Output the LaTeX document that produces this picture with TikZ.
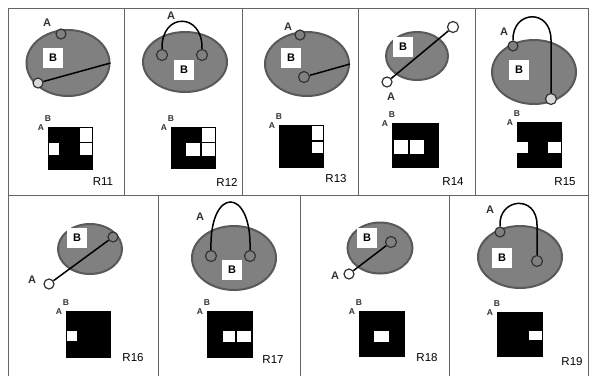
\documentclass[tikz,border=0pt]{standalone}
\usepackage{fontspec}
\setmainfont{Liberation Sans}
\usepackage{tikz}
\usetikzlibrary{shapes.geometric}

\tikzset{
  blob/.style={ellipse, draw=black!65, line width=2pt, fill=black!50, inner sep=0pt},
  knob/.style={circle, draw=black!80, line width=1.2pt, fill=black!50, inner sep=0pt, minimum size=10pt},
  knobout/.style={knob, fill=white},
  bbox/.style={fill=white, minimum size=20pt, inner sep=0pt, font=\bfseries\fontsize{11}{11}\selectfont},
  lab/.style={font=\bfseries\fontsize{11}{11}\selectfont, text=black!80, inner sep=0pt},
  rtag/.style={font=\fontsize{11.5}{12}\selectfont, inner sep=0pt},
  supl/.style={font=\bfseries\fontsize{8.5}{9}\selectfont, text=black!80, inner sep=0pt},
  wire/.style={line width=1.5pt, black},
  cellline/.style={draw=black!60, line width=0.8pt}
}

\begin{document}
\begin{tikzpicture}[x=1pt,y=-1pt]
    \useasboundingbox (0,0) rectangle (596,376);

    % frame
    \draw[cellline] (8,8) -- (588,8);
    \draw[cellline] (8,195) -- (588,195);
    \foreach \x in {8,124,242,358,475,588}
      \draw[cellline] (\x,8) -- (\x,195);
    \foreach \x in {8,158,300,449,588}
      \draw[cellline] (\x,195) -- (\x,376);

    % R11
    \node[blob, minimum width=83pt, minimum height=66pt] (e11) at (68,63) {};
    \node[bbox] (b11) at (53,58) {B};
    \node[knob] (a11) at (61,34) {};
    \node[knobout, fill=black!15] (c11) at (38,83) {};
    \draw[wire] (c11) -- (e11.east);
    \node[lab] (l11) at (47,23) {A};

    % R12
    \node[blob, minimum width=84pt, minimum height=60pt] (e12) at (185,62) {};
    \node[bbox] (b12) at (184,70) {B};
    \node[knob, minimum size=11pt] (a12) at (162,55) {};
    \node[knob, minimum size=11pt] (c12) at (202,55) {};
    \draw[wire] (a12.north) .. controls (161,12) and (203,12) .. (c12.north);
    \node[lab] (l12) at (171,16) {A};

    % R13
    \node[blob, minimum width=84pt, minimum height=64pt] (e13) at (307,64) {};
    \node[bbox] (b13) at (291,58) {B};
    \node[knob] (a13) at (300,35) {};
    \node[knob, minimum size=11pt] (c13) at (304,77) {};
    \draw[wire] (c13) -- (e13.east);
    \node[lab] (l13) at (288,27) {A};

    % R14
    \node[blob, minimum width=62pt, minimum height=48pt] (e14) at (417,56) {};
    \node[bbox] (b14) at (403,47) {B};
    \node[knobout] (a14) at (387,82) {};
    \node[knobout, minimum size=11pt] (c14) at (453,27) {};
    \draw[wire] (a14) -- (c14);
    \node[lab] (l14) at (391,97) {A};

    % R15
    \node[blob, minimum width=84pt, minimum height=64pt] (e15) at (534,72) {};
    \node[bbox] (b15) at (519,70) {B};
    \node[knob] (a15) at (513,46) {};
    \node[knobout, fill=black!15, minimum size=11pt] (c15) at (551,99) {};
    \draw[wire] (a15.north) .. controls (512,10) and (551,8) .. (c15.north |- 0,40) -- (c15.north);
    \node[lab] (l15) at (504,32) {A};

    % R16
    \node[blob, minimum width=64pt, minimum height=50pt] (e16) at (90,249) {};
    \node[bbox] (b16) at (77,238) {B};
    \node[knob] (a16) at (113,237) {};
    \node[knobout] (c16) at (49,284) {};
    \draw[wire] (c16) -- (a16);
    \node[lab] (l16) at (32,280) {A};

    % R17
    \node[blob, minimum width=84pt, minimum height=64pt] (e17) at (234,258) {};
    \node[bbox] (b17) at (232,270) {B};
    \node[knob, minimum size=11pt] (a17) at (211,256) {};
    \node[knob, minimum size=11pt] (c17) at (250,256) {};
    \draw[wire] (a17.north) .. controls (209,186) and (252,186) .. (c17.north);
    \node[lab] (l17) at (200,217) {A};

    % R18
    \node[blob, minimum width=65pt, minimum height=51pt] (e18) at (380,248) {};
    \node[bbox] (b18) at (367,238) {B};
    \node[knob, minimum size=11pt] (a18) at (391,242) {};
    \node[knobout] (c18) at (349,274) {};
    \draw[wire] (c18) -- (a18);
    \node[lab] (l18) at (335,276) {A};

    % R19
    \node[blob, minimum width=84pt, minimum height=62pt] (e19) at (520,257) {};
    \node[bbox] (b19) at (502,258) {B};
    \node[knob] (a19) at (500,232) {};
    \node[knob, minimum size=11pt] (c19) at (537,261) {};
    \draw[wire] (a19.north) .. controls (498,198) and (537,194) .. (c19.north |- 0,225) -- (c19.north);
    \node[lab] (l19) at (490,210) {A};

    % blocks
    \foreach \x/\y/\w/\h [count=\i] in {48/127/45/43, 171/127/45/42, 279/125/45/43,
        392/123/47/45, 517/122/45/46, 66/311/45/47, 207/311/46/47, 359/311/46/46, 497/312/46/45} {
      \fill[black] (\x,\y) rectangle ++(\w,\h);
      \node[supl] (sa\i) at (\x-7,\y+1) {A};
      \node[supl] (sb\i) at (\x,\y-8) {B};
    }
    \foreach \a/\b/\c/\d in {80/128/92/142, 80/143/92/155, 49/143/59/155,
        202/128/215/142, 186/143/200/156, 202/143/215/156,
        312/126/323/140, 312/142/323/153,
        394/140/408/154, 410/140/424/154,
        517/142/528/153, 548/142/561/153,
        67/331/77/341, 223/331/235/342, 237/331/251/342,
        374/331/389/342, 529/331/542/340}
      \fill[white] (\a,\b) rectangle (\c,\d);

    % tags
    \node[rtag] (r11) at (103,182) {R11};
    \node[rtag] (r12) at (227,182) {R12};
    \node[rtag] (r13) at (336,179) {R13};
    \node[rtag] (r14) at (453,182) {R14};
    \node[rtag] (r15) at (565,182) {R15};
    \node[rtag] (r16) at (133,358) {R16};
    \node[rtag] (r17) at (273,360) {R17};
    \node[rtag] (r18) at (427,358) {R18};
    \node[rtag] (r19) at (572,362) {R19};
  \end{tikzpicture}
\end{document}
